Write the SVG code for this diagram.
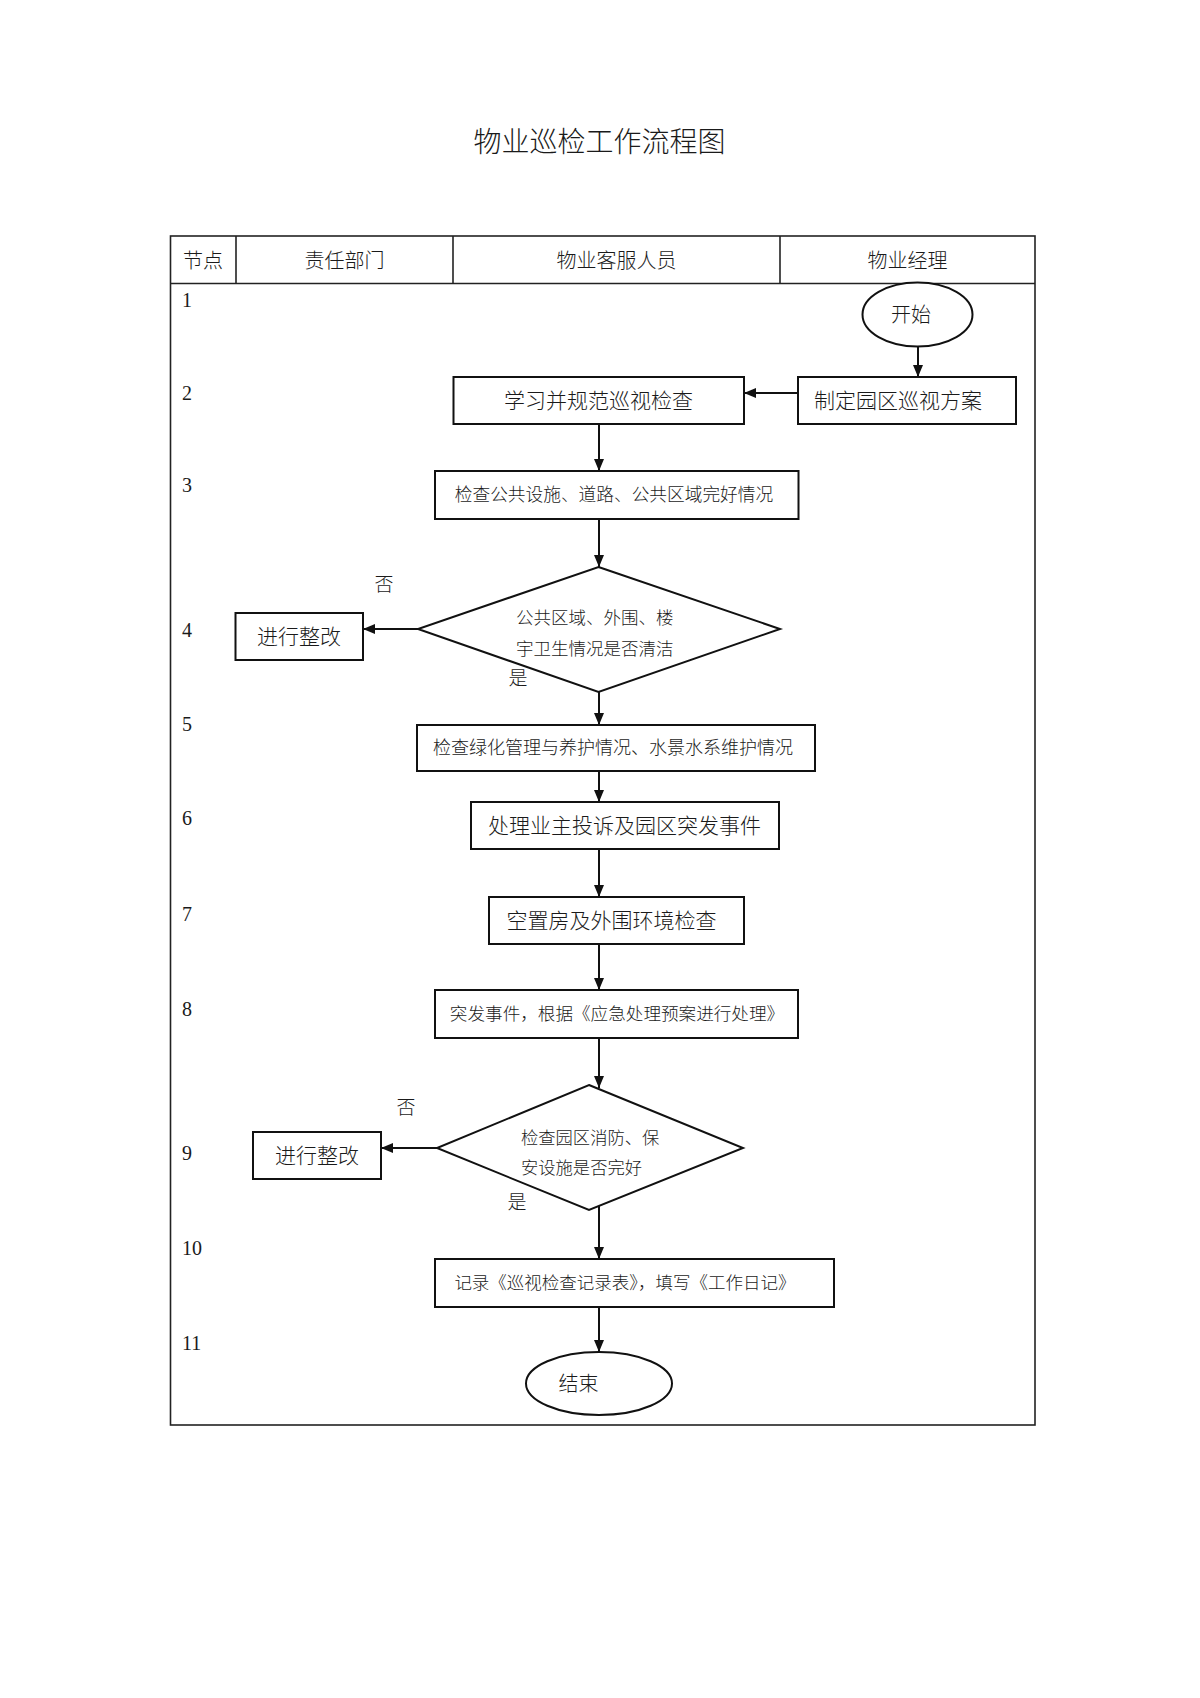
<svg xmlns="http://www.w3.org/2000/svg" width="1200" height="1698" viewBox="0 0 1200 1698">
<defs>
<style>
.t{font-family:"Noto Sans CJK SC","Liberation Serif",serif;fill:#1a1a1a;font-weight:300;transform:translateY(-2px);}
.n{font-family:"Liberation Serif","Noto Sans CJK SC",serif;fill:#1a1a1a;font-size:20px;transform:translateY(-2px);}
.shape{fill:#fff;stroke:#111;stroke-width:2;}
.grid{fill:none;stroke:#222;stroke-width:1.6;}
.edge{fill:none;stroke:#111;stroke-width:2;marker-end:url(#ah);}
.c{text-anchor:middle;dominant-baseline:central;}
.s{text-anchor:start;dominant-baseline:central;}
</style>
<marker id="ah" viewBox="0 0 12 10" refX="12" refY="5" markerWidth="12" markerHeight="10" markerUnits="userSpaceOnUse" orient="auto">
<path d="M0,0 L12,5 L0,10 z" fill="#111"/>
</marker>
</defs>
<rect width="1200" height="1698" fill="#fff"/>
<text class="t c" x="599.5" y="142" font-size="28">物业巡检工作流程图</text>
<g id="table">
<rect class="grid" x="170.5" y="236" width="864.5" height="1189"/>
<line class="grid" x1="170.5" y1="283.5" x2="1035" y2="283.5"/>
<line class="grid" x1="236" y1="236" x2="236" y2="283.5"/>
<line class="grid" x1="453" y1="236" x2="453" y2="283.5"/>
<line class="grid" x1="780" y1="236" x2="780" y2="283.5"/>
<text class="t c" x="203" y="261" font-size="20">节点</text>
<text class="t c" x="344.5" y="261" font-size="20">责任部门</text>
<text class="t c" x="616.5" y="261" font-size="20">物业客服人员</text>
<text class="t c" x="907.5" y="261" font-size="20">物业经理</text>
<g id="steps">
<text class="n s" x="182" y="302">1</text>
<text class="n s" x="182" y="395">2</text>
<text class="n s" x="182" y="487">3</text>
<text class="n s" x="182" y="632">4</text>
<text class="n s" x="182" y="726">5</text>
<text class="n s" x="182" y="820">6</text>
<text class="n s" x="182" y="916">7</text>
<text class="n s" x="182" y="1011">8</text>
<text class="n s" x="182" y="1155">9</text>
<text class="n s" x="182" y="1250">10</text>
<text class="n s" x="182" y="1345">11</text>
</g>
</g>
<g id="connectors">
<line class="edge" x1="918" y1="346.5" x2="918" y2="377"/>
<line class="edge" x1="798" y1="393" x2="744" y2="393"/>
<line class="edge" x1="599" y1="424" x2="599" y2="471"/>
<line class="edge" x1="599" y1="519" x2="599" y2="567"/>
<line class="edge" x1="418" y1="629" x2="363" y2="629"/>
<line class="edge" x1="599" y1="692" x2="599" y2="725"/>
<line class="edge" x1="599" y1="771" x2="599" y2="802"/>
<line class="edge" x1="599" y1="849" x2="599" y2="897"/>
<line class="edge" x1="599" y1="944" x2="599" y2="990"/>
<line class="edge" x1="599" y1="1038" x2="599" y2="1088"/>
<line class="edge" x1="437" y1="1148" x2="381" y2="1148"/>
<line class="edge" x1="599" y1="1206" x2="599" y2="1259"/>
<line class="edge" x1="599" y1="1307" x2="599" y2="1352"/>
</g>
<g id="start">
<ellipse class="shape" cx="917.5" cy="314.5" rx="55" ry="32"/>
<text class="t c" x="911" y="315" font-size="20">开始</text>
</g>
<g id="plan">
<rect class="shape" x="798" y="377" width="218" height="47"/>
<text class="t c" x="898" y="400.5" font-size="21">制定园区巡视方案</text>
</g>
<g id="study">
<rect class="shape" x="453.5" y="377" width="290.5" height="47"/>
<text class="t c" x="598.5" y="400.5" font-size="21">学习并规范巡视检查</text>
</g>
<g id="check-public">
<rect class="shape" x="435" y="471" width="363.5" height="48"/>
<text class="t c" x="614" y="495" font-size="17.7">检查公共设施、道路、公共区域完好情况</text>
</g>
<g id="decision-clean">
<polygon class="shape" points="598.5,567 780,629 598.5,692 418,629"/>
<text class="t s" x="516" y="618" font-size="17.5">公共区域、外围、楼</text>
<text class="t s" x="516" y="649" font-size="17.5">宇卫生情况是否清洁</text>
<text class="t c" x="384" y="584" font-size="19">否</text>
<text class="t c" x="518" y="678" font-size="19">是</text>
</g>
<g id="fix-1">
<rect class="shape" x="235.5" y="613" width="127.5" height="47"/>
<text class="t c" x="299" y="636.5" font-size="21">进行整改</text>
</g>
<g id="check-green">
<rect class="shape" x="417" y="725" width="398" height="46"/>
<text class="t c" x="613" y="748" font-size="18">检查绿化管理与养护情况、水景水系维护情况</text>
</g>
<g id="complaints">
<rect class="shape" x="471" y="802" width="308" height="47"/>
<text class="t c" x="624.5" y="825.5" font-size="21">处理业主投诉及园区突发事件</text>
</g>
<g id="vacant">
<rect class="shape" x="489" y="897" width="255" height="47"/>
<text class="t c" x="611.5" y="920.5" font-size="21">空置房及外围环境检查</text>
</g>
<g id="emergency">
<rect class="shape" x="435" y="990" width="363" height="48"/>
<text class="t c" x="617" y="1014" font-size="17.6">突发事件，根据《应急处理预案进行处理》</text>
</g>
<g id="decision-fire">
<polygon class="shape" points="589,1085 743,1148 589,1210 437,1148"/>
<text class="t s" x="521" y="1138" font-size="17.3">检查园区消防、保</text>
<text class="t s" x="521" y="1168" font-size="17.3">安设施是否完好</text>
<text class="t c" x="406" y="1107" font-size="19">否</text>
<text class="t c" x="517" y="1202" font-size="19">是</text>
</g>
<g id="fix-2">
<rect class="shape" x="253" y="1132" width="128" height="47"/>
<text class="t c" x="317" y="1155.5" font-size="21">进行整改</text>
</g>
<g id="record">
<rect class="shape" x="435" y="1259" width="399" height="48"/>
<text class="t c" x="625" y="1283" font-size="17.5">记录《巡视检查记录表》，填写《工作日记》</text>
</g>
<g id="end">
<ellipse class="shape" cx="599" cy="1383.5" rx="73" ry="31.5"/>
<text class="t c" x="578.5" y="1384" font-size="20">结束</text>
</g>
</svg>
